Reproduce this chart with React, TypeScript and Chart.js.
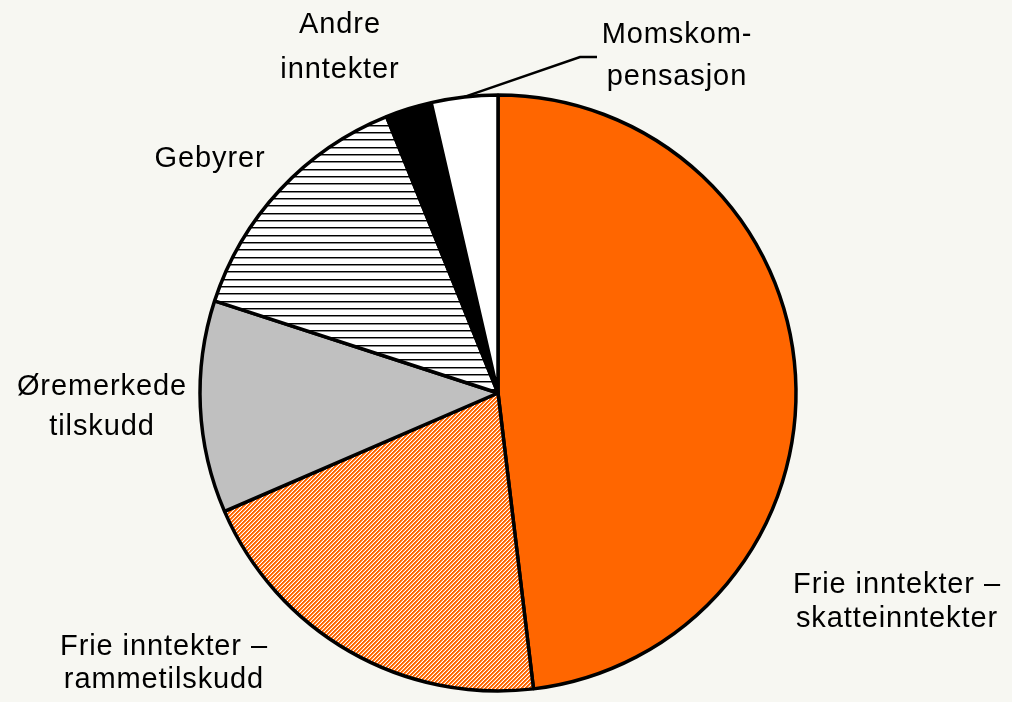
import React, { useEffect, useRef } from "react";
import { Chart, registerables } from "chart.js";

Chart.register(...registerables);

const categories = [
  "Frie inntekter – skatteinntekter",
  "Frie inntekter – rammetilskudd",
  "Øremerkede tilskudd",
  "Gebyrer",
  "Andre inntekter",
  "Momskompensasjon",
];
const shares = [48.1, 20.4, 11.5, 13.9, 2.5, 3.6];
const labelLines = [
  ["Frie inntekter –", "skatteinntekter"],
  ["Frie inntekter –", "rammetilskudd"],
  ["Øremerkede", "tilskudd"],
  ["Gebyrer"],
  ["Andre", "inntekter"],
  ["Momskom-", "pensasjon"],
];

const ORANGE = "#FF6600";
const BG = "#F7F7F2";

function diagPattern(ctx: CanvasRenderingContext2D) {
  const c = document.createElement("canvas");
  c.width = 4;
  c.height = 4;
  const g = c.getContext("2d")!;
  for (let x = 0; x < 4; x++) {
    for (let y = 0; y < 4; y++) {
      const k = (x + y) % 4;
      g.fillStyle = k < 2 ? ORANGE : k === 2 ? "#FFA060" : "#FFFFFF";
      g.fillRect(x, y, 1, 1);
    }
  }
  return ctx.createPattern(c, "repeat")!;
}

function hLinePattern(ctx: CanvasRenderingContext2D) {
  const c = document.createElement("canvas");
  c.width = 4;
  c.height = 22;
  const g = c.getContext("2d")!;
  g.fillStyle = "#FFFFFF";
  g.fillRect(0, 0, 4, 22);
  for (const y of [0, 7, 15]) {
    g.fillStyle = "#000000";
    g.fillRect(0, y, 4, 1);
    g.fillStyle = "#8a8a8a";
    g.fillRect(0, y + 1, 4, 1);
  }
  return ctx.createPattern(c, "repeat")!;
}

// label anchor placement (center x, first baseline y, line gap)
const labelPlacement = [
  { x: 897, y: 593, gap: 34 },
  { x: 164, y: 655, gap: 33 },
  { x: 102, y: 395, gap: 40 },
  { x: 210, y: 167, gap: 0 },
  { x: 340, y: 33, gap: 45 },
  { x: 677, y: 43, gap: 42 },
];

const labelsPlugin = {
  id: "outerLabels",
  afterDraw(chart: any) {
    const ctx = chart.ctx as CanvasRenderingContext2D;
    const meta = chart.getDatasetMeta(0);
    ctx.save();
    const arc = meta.data[5];
    if (arc) {
      const p = arc.getProps(["x", "y", "startAngle", "endAngle", "outerRadius"], true);
      const mid = (p.startAngle + p.endAngle) / 2;
      const sx = p.x + Math.cos(mid) * p.outerRadius;
      const sy = p.y + Math.sin(mid) * p.outerRadius;
      ctx.beginPath();
      ctx.moveTo(sx, sy);
      ctx.lineTo(580, 57);
      ctx.lineTo(597, 57);
      ctx.strokeStyle = "#000";
      ctx.lineWidth = 2.5;
      ctx.stroke();
    }
    ctx.fillStyle = "#000";
    ctx.font = '29px "Liberation Sans", Arial, sans-serif';
    (ctx as any).letterSpacing = "0.9px";
    ctx.textAlign = "center";
    ctx.textBaseline = "alphabetic";
    labelLines.forEach((lines, i) => {
      const pl = labelPlacement[i];
      lines.forEach((t, j) => ctx.fillText(t, pl.x, pl.y + j * pl.gap));
    });
    ctx.restore();
  },
};

export default function App() {
  const ref = useRef<HTMLCanvasElement | null>(null);
  useEffect(() => {
    const canvas = ref.current!;
    const ctx = canvas.getContext("2d")!;
    const colors = [ORANGE, diagPattern(ctx), "#C0C0C0", hLinePattern(ctx), "#000000", "#FFFFFF"];
    const chart = new Chart(canvas, {
      type: "pie",
      data: {
        labels: categories,
        datasets: [
          {
            data: shares,
            backgroundColor: colors as any,
            borderColor: "#000000",
            borderWidth: 3.5,
          },
        ],
      },
      options: {
        responsive: false,
        animation: false,
        radius: 298,
        layout: { padding: { left: 0, right: 16, top: 84, bottom: 0 } },
        plugins: {
          legend: { display: false },
          tooltip: { enabled: false },
        },
      } as any,
      plugins: [labelsPlugin],
    });
    return () => chart.destroy();
  }, []);
  return (
    <div
      style={{
        position: "absolute",
        left: 0,
        top: 0,
        width: 1012,
        height: 702,
        background: BG,
      }}
    >
      <canvas ref={ref} width={1012} height={702} style={{ display: "block" }} />
    </div>
  );
}
